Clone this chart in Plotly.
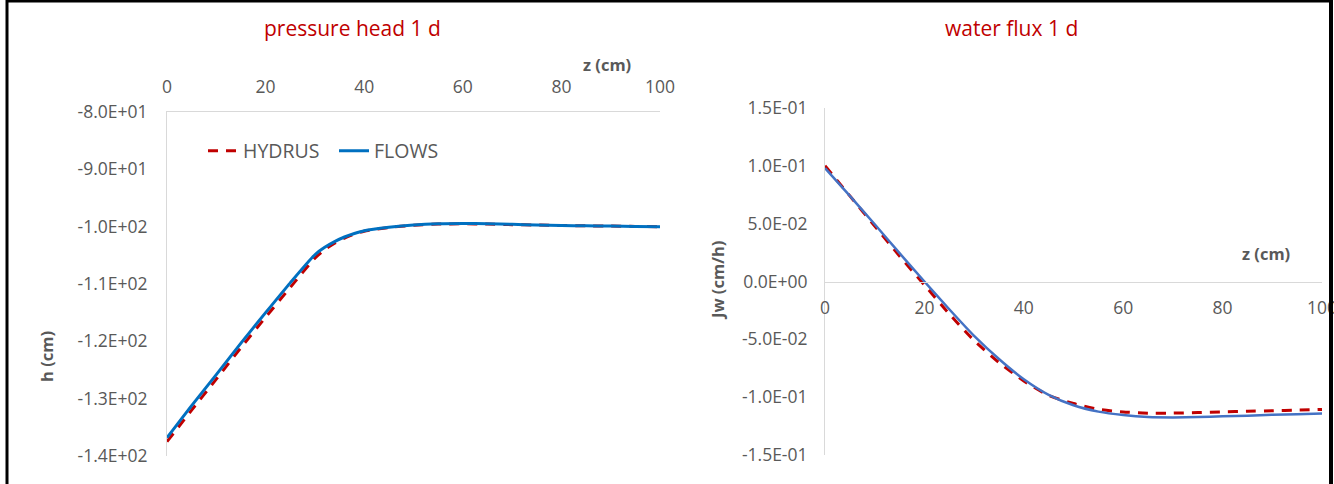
import plotly.graph_objects as go

W, H = 1334, 484

# ---------------- data ----------------
z_h = [0, 5, 10, 15, 20, 25, 30, 32, 34, 36, 38, 40, 45, 50, 55, 60, 65, 70, 75, 80, 85, 90, 95, 100]
h_flows = [-136.8, -131.2, -125.8, -120.3, -115.0, -109.8, -104.9, -103.6, -102.6, -101.8, -101.2, -100.7,
           -100.1, -99.7, -99.5, -99.45, -99.5, -99.6, -99.7, -99.8, -99.85, -99.9, -99.95, -100.0]
h_hydrus = [-137.5, -132.0, -126.6, -121.1, -115.8, -110.6, -105.5, -104.0, -102.9, -102.0, -101.3, -100.8,
            -100.15, -99.75, -99.55, -99.5, -99.55, -99.65, -99.72, -99.8, -99.85, -99.9, -99.95, -100.0]

z_j = [0, 5, 10, 15, 20, 25, 30, 35, 40, 45, 50, 55, 60, 65, 70, 75, 80, 85, 90, 95, 100]
jw_flows = [0.098, 0.074, 0.0495, 0.0245, 0.000, -0.024, -0.047, -0.067, -0.0845, -0.098, -0.107,
            -0.1125, -0.1155, -0.1172, -0.1175, -0.1172, -0.1165, -0.116, -0.1152, -0.1147, -0.1142]
jw_hydrus = [0.100, 0.074, 0.048, 0.022, -0.003, -0.028, -0.051, -0.070, -0.086, -0.0985, -0.1055,
             -0.1105, -0.1128, -0.1138, -0.1138, -0.1133, -0.1127, -0.1122, -0.1117, -0.1112, -0.1106]

x_ticks = [0, 20, 40, 60, 80, 100]
h_ticks = [-80, -90, -100, -110, -120, -130, -140]
h_ticktext = ["-8.0E+01", "-9.0E+01", "-1.0E+02", "-1.1E+02", "-1.2E+02", "-1.3E+02", "-1.4E+02"]
j_ticks = [0.15, 0.10, 0.05, 0.0, -0.05, -0.10, -0.15]
j_ticktext = ["1.5E-01", "1.0E-01", "5.0E-02", "0.0E+00", "-5.0E-02", "-1.0E-01", "-1.5E-01"]

# ---------------- style ----------------
FONT = "Open Sans"
RED = "#C00000"
BLUE_L = "#0070C0"
BLUE_R = "#4472C4"
GRAY_T = "#595959"
AX = "#D9D9D9"
TICK_SIZE = 17.5


def px(x):
    return x / W


def py(y):
    return 1 - y / H


fig = go.Figure()

fig.add_trace(go.Scatter(x=z_h, y=h_hydrus, mode="lines", name="HYDRUS",
                         line=dict(color=RED, width=3, dash="10px,8px", shape="spline", smoothing=0.6),
                         xaxis="x", yaxis="y"))
fig.add_trace(go.Scatter(x=z_h, y=h_flows, mode="lines", name="FLOWS",
                         line=dict(color=BLUE_L, width=3, shape="spline", smoothing=0.6),
                         xaxis="x", yaxis="y"))
fig.add_trace(go.Scatter(x=z_j, y=jw_hydrus, mode="lines", name="HYDRUS", showlegend=False,
                         line=dict(color=RED, width=3, dash="10px,8px", shape="spline", smoothing=0.6),
                         xaxis="x2", yaxis="y2"))
fig.add_trace(go.Scatter(x=z_j, y=jw_flows, mode="lines", name="FLOWS", showlegend=False,
                         line=dict(color=BLUE_R, width=2.5, shape="spline", smoothing=0.6),
                         xaxis="x2", yaxis="y2"))

# domains (pixels -> paper)
L_x = [px(167), px(660)]
L_y = [py(456), py(112)]
R_x = [px(825), px(1322)]
R_y = [py(455), py(108)]
j_range = [-0.15, 0.15]
zero_pos = R_y[0] + (0 - j_range[0]) / (j_range[1] - j_range[0]) * (R_y[1] - R_y[0])

tickfont = dict(family=FONT, size=TICK_SIZE, color=GRAY_T)
common = dict(showgrid=False, zeroline=False, showline=True, linecolor=AX, linewidth=1,
              ticks="", automargin=False, tickfont=tickfont, fixedrange=True,
              ticklabeloverflow="allow")

fig.update_layout(
    width=W, height=H,
    margin=dict(l=0, r=0, t=0, b=0, pad=0),
    paper_bgcolor="white", plot_bgcolor="white",
    showlegend=True,
    legend=dict(orientation="h", x=px(203), y=py(151), xanchor="left", yanchor="middle",
                font=dict(family=FONT, size=19.5, color=GRAY_T),
                bgcolor="rgba(0,0,0,0)", itemwidth=30, tracegroupgap=0,
                entrywidth=86, entrywidthmode="pixels"),
    xaxis=dict(domain=L_x, range=[0, 100], side="top", anchor="y",
               tickvals=x_ticks, ticklabelstandoff=11, **common),
    yaxis=dict(domain=L_y, range=[-140, -80], anchor="x",
               tickvals=h_ticks, ticktext=h_ticktext, ticklabelstandoff=15, **common),
    xaxis2=dict(domain=R_x, range=[0, 100], anchor="free", position=zero_pos,
                tickvals=x_ticks, ticklabelstandoff=10, **common),
    yaxis2=dict(domain=R_y, range=j_range, anchor="x2",
                tickvals=j_ticks, ticktext=j_ticktext, ticklabelstandoff=13, **common),
)

ann_title = dict(family=FONT, size=21, color=RED)
ann_axis = dict(family=FONT, size=16.5, color=GRAY_T)
fig.add_annotation(text="pressure head 1 d", x=px(352), y=py(28), xref="paper", yref="paper",
                   showarrow=False, font=ann_title, xanchor="center", yanchor="middle")
fig.add_annotation(text="water flux 1 d", x=px(1011), y=py(28), xref="paper", yref="paper",
                   showarrow=False, font=ann_title, xanchor="center", yanchor="middle")
fig.add_annotation(text="<b>z (cm)</b>", x=px(607), y=py(65), xref="paper", yref="paper",
                   showarrow=False, font=ann_axis, xanchor="center", yanchor="middle")
fig.add_annotation(text="<b>z (cm)</b>", x=px(1266), y=py(253), xref="paper", yref="paper",
                   showarrow=False, font=ann_axis, xanchor="center", yanchor="middle")
fig.add_annotation(text="<b>h (cm)</b>", x=px(46), y=py(357), xref="paper", yref="paper",
                   showarrow=False, font=ann_axis, textangle=-90, xanchor="center", yanchor="middle")
fig.add_annotation(text="<b>Jw (cm/h)</b>", x=px(717), y=py(281), xref="paper", yref="paper",
                   showarrow=False, font=ann_axis, textangle=-90, xanchor="center", yanchor="middle")

# outer black frame (left, top, right)
frame = dict(color="black", width=3)
fig.add_shape(type="line", xref="paper", yref="paper", x0=px(7), x1=px(7), y0=0, y1=1, line=frame)
fig.add_shape(type="line", xref="paper", yref="paper", x0=px(6), x1=px(1332), y0=py(1), y1=py(1), line=frame)
fig.add_shape(type="line", xref="paper", yref="paper", x0=px(1331), x1=px(1331), y0=0, y1=1,
              line=dict(color="black", width=4))

fig.write_html("out.html", config={"displayModeBar": False},
               post_script="document.body.style.margin='0';document.body.style.overflow='hidden';")
